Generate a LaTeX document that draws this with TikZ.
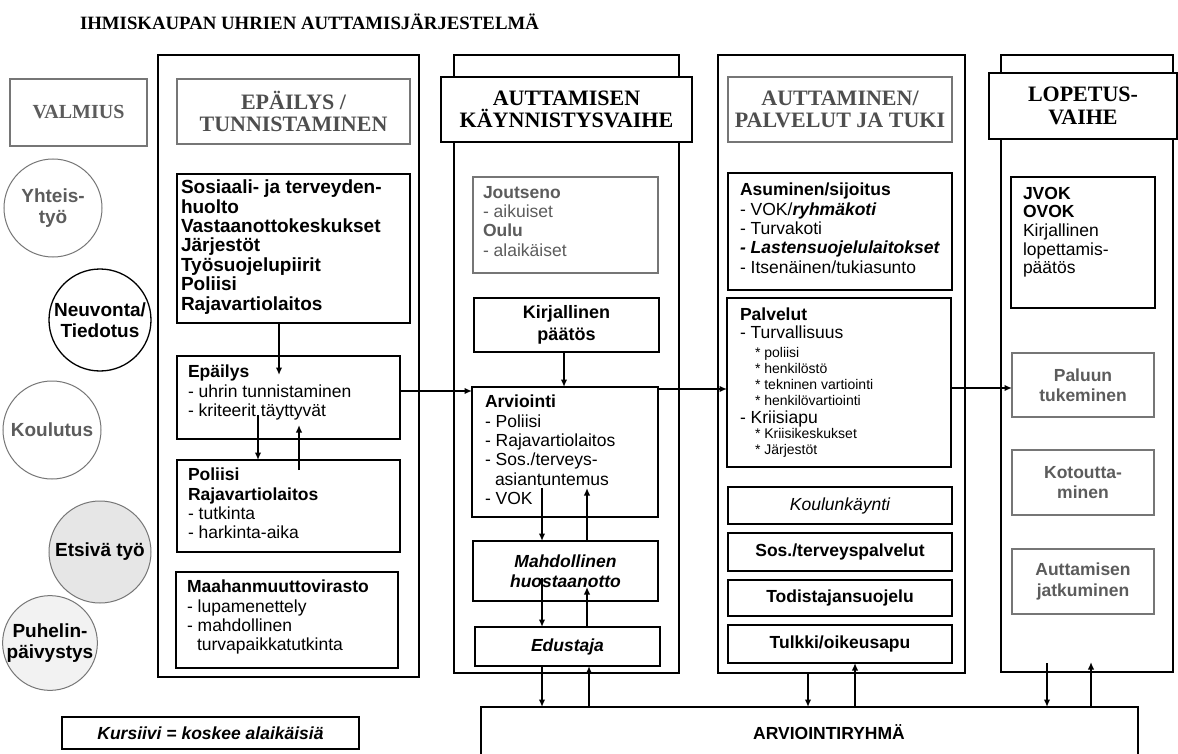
\documentclass[tikz,border=0pt]{standalone}
\usepackage{fontspec}
\setmainfont{Liberation Serif}
\setsansfont{Liberation Sans}
\usetikzlibrary{arrows.meta,calc}
\definecolor{hdgray}{HTML}{4E4E4E}
\definecolor{bxgray}{HTML}{767676}
\definecolor{txgray}{HTML}{5C5C5C}
\definecolor{cfill}{HTML}{E6E6E6}
\definecolor{cfillb}{HTML}{F2F2F2}
\newcommand{\BL}{\fontsize{19}{19.4}\selectfont\bfseries}
\tikzset{
  every node/.style={inner sep=0pt, outer sep=0pt},
  colbox/.style={draw=black, line width=1.4pt, anchor=north west},
  box/.style={draw=black, line width=1.4pt, fill=white, anchor=north west},
  gbox/.style={draw=bxgray, line width=1.2pt, fill=white, anchor=north west},
  hdr/.style={font=\fontsize{22}{22.5}\selectfont\bfseries, align=center},
  body/.style={font=\sffamily\fontsize{17.5}{19.4}\selectfont, align=left, anchor=north west},
  small/.style={font=\sffamily\fontsize{14}{16.2}\selectfont, align=left, anchor=north west},
  ctr/.style={font=\sffamily\fontsize{17.5}{20.5}\selectfont\bfseries, align=center},
  arr/.style={line width=1.6pt, -{Latex[length=7.5pt,width=6.5pt]}},
  circ/.style={circle, line width=1pt, minimum size=98pt, font=\sffamily\fontsize{19}{21}\selectfont\bfseries, align=center}
}
\begin{document}
\begin{tikzpicture}[x=1pt,y=-1pt]
\useasboundingbox[fill=white] (0,0) rectangle (1178,754);

% title
\node[anchor=west, font=\fontsize{18.8}{20}\selectfont\bfseries] (title) at (80,22) {IHMISKAUPAN UHRIEN AUTTAMISJÄRJESTELMÄ};

% left column
\node[gbox, minimum width=137pt, minimum height=67pt, hdr, font=\fontsize{20}{22}\selectfont\bfseries, text=txgray] (valm) at (10,79) {VALMIUS};
\node[circ, draw=bxgray, text=txgray] (c1) at (53,208) {Yhteis-\\työ};
\node[circ, draw=black, line width=1.3pt, minimum size=102pt, fill=white] (c2) at (100,320) {Neuvonta/\\Tiedotus};
\node[circ, draw=bxgray, text=txgray] (c3) at (52,430) {Koulutus};
\node[circ, draw=bxgray, fill=cfill, minimum size=102pt] (c4) at (100,552) {Etsivä työ};
\node[circ, draw=bxgray, fill=cfillb, minimum size=94pt] (c5) at (50,643) {Puhelin-\\päivystys};

% column outlines
\node[colbox, minimum width=261pt, minimum height=622pt] (col1) at (158,55) {};
\node[colbox, minimum width=225pt, minimum height=618pt] (col2) at (454,55) {};
\node[colbox, minimum width=247pt, minimum height=618pt] (col3) at (718,55) {};
\node[colbox, minimum width=172pt, minimum height=617pt] (col4) at (1001,55) {};

% headers
\node[gbox, minimum width=233pt, minimum height=65pt, hdr, text=hdgray] (h1) at (177,79) {EPÄILYS /\\TUNNISTAMINEN};
\node[box, minimum width=251pt, minimum height=65pt, hdr] (h2) at (441,77) {AUTTAMISEN\\KÄYNNISTYSVAIHE};
\node[gbox, minimum width=224pt, minimum height=65pt, hdr, text=hdgray] (h3) at (728,77) {AUTTAMINEN/\\PALVELUT JA TUKI};
\node[box, minimum width=188pt, minimum height=66pt, hdr] (h4) at (989,73) {LOPETUS-\\VAIHE};

% column 1
\node[box, minimum width=233pt, minimum height=149pt] (sos) at (177,174) {};
\node[body, font=\sffamily\BL] (sosT) at (181,180) {Sosiaali- ja terveyden-\\huolto\\Vastaanottokeskukset\\Järjestöt\\Työsuojelupiirit\\Poliisi\\Rajavartiolaitos};
\node[box, minimum width=223pt, minimum height=83pt] (epa) at (177,356) {};
\node[body] (epaT) at (188,365) {\textbf{Epäilys}\\- uhrin tunnistaminen\\- kriteerit täyttyvät};
\node[box, minimum width=223pt, minimum height=92pt] (pol) at (177,460) {};
\node[body] (polT) at (188,468) {\textbf{Poliisi}\\\textbf{Rajavartiolaitos}\\- tutkinta\\- harkinta-aika};
\node[box, minimum width=222pt, minimum height=96pt] (maa) at (176,572) {};
\node[body] (maaT) at (187,580) {\textbf{Maahanmuuttovirasto}\\- lupamenettely\\- mahdollinen\\\hspace*{10pt}turvapaikkatutkinta};

% column 2
\node[gbox, minimum width=185pt, minimum height=96pt] (jou) at (473,177) {};
\node[body, text=txgray] (jouT) at (483,186) {\textbf{Joutseno}\\- aikuiset\\\textbf{Oulu}\\- alaikäiset};
\node[box, minimum width=185pt, minimum height=54pt, ctr, font=\sffamily\fontsize{18}{21.5}\selectfont\bfseries] (kir) at (474,298) {Kirjallinen\\päätös};
\node[box, minimum width=186pt, minimum height=130pt] (arv) at (472,387) {};
\node[body] (arvT) at (485,395) {\textbf{Arviointi}\\- Poliisi\\- Rajavartiolaitos\\- Sos./terveys-\\\hspace*{10pt}asiantuntemus\\- VOK};
\node[box, minimum width=185pt, minimum height=60pt, ctr, font=\sffamily\fontsize{17.5}{20}\selectfont\bfseries\itshape] (mah) at (473,541) {Mahdollinen\\huostaanotto};
\node[box, minimum width=185pt, minimum height=39pt, ctr, font=\sffamily\fontsize{17.5}{20}\selectfont\bfseries\itshape] (edu) at (475,627) {Edustaja};

% column 3
\node[box, minimum width=224pt, minimum height=117pt] (asu) at (728,173) {};
\node[body] (asuT) at (740,183) {\textbf{Asuminen/sijoitus}\\- VOK/\textbf{\itshape ryhmäkoti}\\- Turvakoti\\\textbf{\itshape - Lastensuojelulaitokset}\\- Itsenäinen/tukiasunto};
\node[box, minimum width=224pt, minimum height=169pt] (pal) at (727,298) {};
\node[body, font=\sffamily\fontsize{17.5}{18}\selectfont] (palT1) at (740,308) {\textbf{Palvelut}\\- Turvallisuus};
\node[small] (palT2) at (755,347) {* poliisi\\* henkilöstö\\* tekninen vartiointi\\* henkilövartiointi};
\node[body] (palT3) at (740,411) {- Kriisiapu};
\node[small] (palT4) at (755,428) {* Kriisikeskukset\\* Järjestöt};
\node[box, minimum width=224pt, minimum height=37pt, ctr, font=\sffamily\fontsize{17.5}{20}\selectfont\itshape] (kou) at (728,487) {Koulunkäynti};
\node[box, minimum width=224pt, minimum height=38pt, ctr] (sosp) at (728,533) {Sos./terveyspalvelut};
\node[box, minimum width=224pt, minimum height=36pt, ctr] (tod) at (728,580) {Todistajansuojelu};
\node[box, minimum width=224pt, minimum height=38pt, ctr] (tul) at (728,625) {Tulkki/oikeusapu};

% column 4
\node[box, minimum width=144pt, minimum height=131pt] (jvo) at (1011,177) {};
\node[body, font=\sffamily\fontsize{17.5}{18.6}\selectfont] (jvoT) at (1023,187) {\textbf{JVOK}\\\textbf{OVOK}\\Kirjallinen\\lopettamis-\\päätös};
\node[gbox, minimum width=142pt, minimum height=64pt, ctr, text=txgray] (palu) at (1012,353) {Paluun\\tukeminen};
\node[gbox, minimum width=142pt, minimum height=65pt, ctr, text=txgray] (kot) at (1012,450) {Kotoutta-\\minen};
\node[gbox, minimum width=142pt, minimum height=65pt, ctr, text=txgray] (aut) at (1012,549) {Auttamisen\\jatkuminen};

% bottom
\node[box, minimum width=657pt, minimum height=60pt] (ryh) at (481,707) {};
\node[font=\sffamily\fontsize{17.5}{20}\selectfont\bfseries] (ryhT) at (829,732) {ARVIOINTIRYHMÄ};
\node[box, minimum width=297pt, minimum height=32pt, ctr, font=\sffamily\fontsize{17.5}{20}\selectfont\bfseries\itshape] (kur) at (62,717) {Kursiivi = koskee alaikäisiä};

% arrows column 1
\draw[arr] (sos.south -| 279,0) -- ($(epa.north -| 279,0)+(0,19)$);
\draw[arr] ($(epa.south -| 258,0)+(0,-24)$) -- (pol.north -| 258,0);
\draw[arr] ($(pol.north -| 299,0)+(0,10)$) -- ($(epa.south -| 299,0)+(0,-14)$);
\draw[arr] (epa.east |- 0,391) -- (arv.west |- 0,391);

% arrows column 2
\draw[arr] (kir.south -| 564,0) -- (arv.north -| 564,0);
\draw[arr] ($(arv.south -| 542,0)+(0,-29)$) -- (mah.north -| 542,0);
\draw[arr] (mah.north -| 587,0) -- ($(arv.south -| 587,0)+(0,-29)$);
\draw[arr] ($(mah.south -| 542,0)+(0,-23)$) -- (edu.north -| 542,0);
\draw[arr] (edu.north -| 587,0) -- ($(mah.south -| 587,0)+(0,-14)$);
\draw[arr] (edu.south -| 542,0) -- (ryh.north -| 542,0);
\draw[arr] (ryh.north -| 589,0) -- (edu.south -| 589,0);

% arrows column 3
\draw[arr] (arv.east |- 0,389) -- (pal.west |- 0,389);
\draw[arr] (pal.east |- 0,388) -- (palu.west |- 0,388);
\draw[arr] (col3.south -| 808,0) -- (ryh.north -| 808,0);
\draw[arr] (ryh.north -| 855,0) -- (tul.south -| 855,0);

% arrows column 4
\draw[arr] ($(col4.south -| 1047,0)+(0,-9)$) -- (ryh.north -| 1047,0);
\draw[arr] (ryh.north -| 1091,0) -- ($(col4.south -| 1091,0)+(0,-10)$);
\end{tikzpicture}
\end{document}
